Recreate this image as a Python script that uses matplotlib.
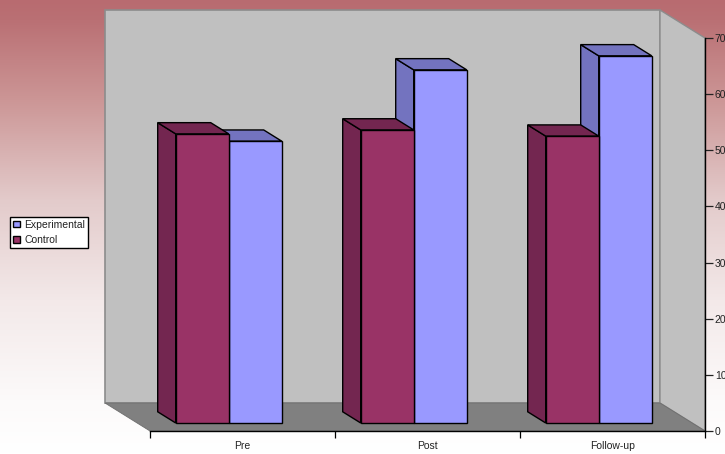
import matplotlib
matplotlib.use("Agg")
import matplotlib.pyplot as plt
import numpy as np
from matplotlib.patches import Patch, Polygon

categories = ["Pre", "Post", "Follow-up"]
experimental = [50.2, 62.9, 65.4]
control = [51.5, 52.2, 51.1]
y_ticks = [0, 10, 20, 30, 40, 50, 60, 70]

plt.rcParams["font.family"] = ["Liberation Sans", "DejaVu Sans"]

W, H = 725, 454
# plot box of the front plane, in pixels
LEFT, RIGHT, BOTTOM, TOP = 150, 705, 431, 38
# how far the back wall sits from the front plane
DEPTH_X = 45 / (RIGHT - LEFT) * len(categories)
DEPTH_Y = 28 / (BOTTOM - TOP) * y_ticks[-1]
BAR_W = 0.2865
BAR_D0, BAR_D1 = 8 / 28, 0.686
BAR_MID = 0.495


def project(x, v, d):
    return (x - d * DEPTH_X, v + d * DEPTH_Y)


def face(ax, pts, color, z, edge="black", lw=1.0):
    ax.add_patch(Polygon([project(*p) for p in pts], closed=True, facecolor=color,
                         edgecolor=edge, linewidth=lw, zorder=z, clip_on=False,
                         joinstyle="miter"))


def draw_bar(ax, x0, value, front, shade, z):
    x1 = x0 + BAR_W
    face(ax, [(x0, 0, BAR_D0), (x0, 0, BAR_D1), (x0, value, BAR_D1), (x0, value, BAR_D0)], shade, z)
    face(ax, [(x0, value, BAR_D0), (x0, value, BAR_D1), (x1, value, BAR_D1), (x1, value, BAR_D0)], shade, z)
    fx, fy = project(x0, 0, BAR_D0)
    ax.bar(fx, value, width=BAR_W, bottom=fy, align="edge", color=front,
           edgecolor="black", linewidth=1.0, zorder=z + 0.5, clip_on=False)


fig = plt.figure(figsize=(W / 100, H / 100), dpi=100)

# page background fading from dusty red to white
bg = fig.add_axes([0, 0, 1, 1], zorder=0)
rows = np.arange(H)
stops_y = [0, 20, 100, 200, 300, 400, 453]
stops_c = np.array([[184, 107, 112], [186, 112, 116], [204, 150, 150], [227, 203, 203],
                    [243, 233, 233], [252, 250, 250], [255, 255, 255]]) / 255
grad = np.stack([np.interp(rows, stops_y, stops_c[:, i]) for i in range(3)], axis=1)
bg.imshow(grad[:, None, :], aspect="auto", extent=[0, 1, 1, 0])
bg.axis("off")

ax = fig.add_axes([LEFT / W, (H - BOTTOM) / H, (RIGHT - LEFT) / W, (BOTTOM - TOP) / H], zorder=1)
ax.patch.set_visible(False)
n = len(categories)
ymax = y_ticks[-1]
ax.set_xlim(0, n)
ax.set_ylim(0, ymax)

# walls and floor
face(ax, [(0, 0, 1), (n, 0, 1), (n, ymax, 1), (0, ymax, 1)], "#c0c0c0", 1, edge="#8c8c8c", lw=1.2)
face(ax, [(n, 0, 1), (n, 0, 0), (n, ymax, 0), (n, ymax, 1)], "#c0c0c0", 1, edge="#8c8c8c", lw=1.0)
face(ax, [(0, 0, 1), (n, 0, 1), (n, 0, 0), (0, 0, 0)], "#808080", 1.5, edge="#6e6e6e", lw=0.6)

for i in range(n):
    draw_bar(ax, i + BAR_MID, experimental[i], "#9999ff", "#7373bf", 3)
    draw_bar(ax, i + BAR_MID - BAR_W, control[i], "#993366", "#732650", 5)

for s in ["left", "top"]:
    ax.spines[s].set_visible(False)
ax.spines["bottom"].set_linewidth(1.0)
ax.spines["right"].set_linewidth(1.0)
ax.yaxis.tick_right()
ax.set_yticks(y_ticks)
ax.tick_params(axis="y", length=6, width=0.9, labelsize=7.5, pad=1, colors="#222222")
ax.set_xticks(range(n + 1))
ax.set_xticklabels([])
ax.tick_params(axis="x", which="major", length=5, width=0.9)
ax.set_xticks(np.arange(n) + 0.5, minor=True)
ax.set_xticklabels(categories, minor=True)
ax.tick_params(axis="x", which="minor", length=0, labelsize=7.5, pad=7.5, colors="#222222")

handles = [Patch(facecolor="#9999ff", edgecolor="black", label="Experimental"),
           Patch(facecolor="#993366", edgecolor="black", label="Control")]
leg = fig.legend(handles=handles, loc="lower left", bbox_to_anchor=(10 / W, (H - 248) / H),
                 borderaxespad=0, frameon=True, fancybox=False, framealpha=1, edgecolor="black",
                 fontsize=7.5, handlelength=0.65, handleheight=0.65, handletextpad=0.4,
                 borderpad=0.3, labelspacing=0.5, labelcolor="#222222")
leg.get_frame().set_linewidth(1.0)
leg.set_zorder(5)

fig.savefig("out.png", dpi=100)
